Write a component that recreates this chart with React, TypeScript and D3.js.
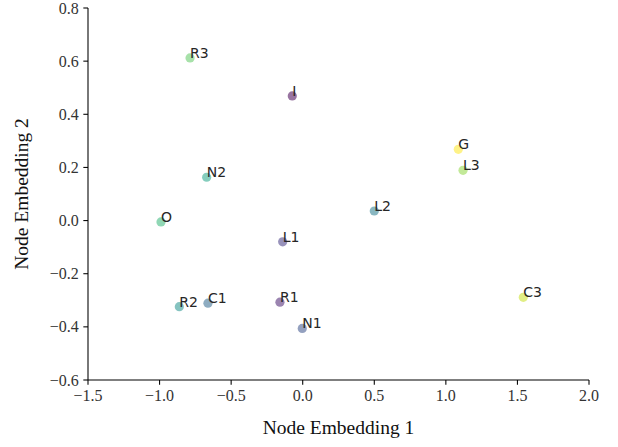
import React from "react";
import * as d3 from "d3";

const nodeNames = ["R3", "I", "N2", "O", "L1", "R2", "C1", "R1", "N1", "G", "L3", "L2", "C3"];
const embX = [-0.787, -0.073, -0.671, -0.99, -0.14, -0.862, -0.662, -0.159, -0.003, 1.087, 1.12, 0.5, 1.541];
const embY = [0.612, 0.469, 0.163, -0.005, -0.08, -0.324, -0.311, -0.307, -0.406, 0.268, 0.189, 0.036, -0.289];
const colorVals = [9, 0, 7, 8, 2, 6, 4, 1, 3, 12, 10, 5, 11];
const xTicks = [-1.5, -1.0, -0.5, 0.0, 0.5, 1.0, 1.5, 2.0];
const yTicks = [-0.6, -0.4, -0.2, 0.0, 0.2, 0.4, 0.6, 0.8];

const W = 618;
const H = 447;
const L = 88, R = 589, T = 8, B = 380;

const fmt = (v: number) => {
  const s = Math.abs(v).toFixed(1);
  return v < -1e-9 ? "\u2212" + s : s;
};

export default function App() {
  const x = d3.scaleLinear().domain([-1.5, 2.0]).range([L, R]);
  const y = d3.scaleLinear().domain([-0.6, 0.8]).range([B, T]);
  const c = d3.scaleSequential(d3.interpolateViridis).domain([0, 12]);
  const tickLen = 4.67;
  const serif = "'Liberation Serif', 'Times New Roman', serif";
  return (
    <svg width={W} height={H} style={{ position: "absolute", left: 0, top: 0, background: "#fff" }}>
      {nodeNames.map((n, i) => (
        <circle key={"p" + n} cx={x(embX[i])} cy={y(embY[i])} r={4.6} fill={c(colorVals[i])} fillOpacity={0.55} />
      ))}
      {nodeNames.map((n, i) => (
        <text key={"t" + n} x={x(embX[i])} y={y(embY[i])} fontFamily="'DejaVu Sans', sans-serif" fontSize={14} fill="#262626">
          {n}
        </text>
      ))}
      <line x1={L} x2={L} y1={T} y2={B} stroke="#000" strokeWidth={1.07} />
      <line x1={L} x2={R} y1={B} y2={B} stroke="#000" strokeWidth={1.07} />
      {xTicks.map((t) => (
        <g key={"xt" + t}>
          <line x1={x(t)} x2={x(t)} y1={B} y2={B + tickLen} stroke="#000" strokeWidth={1.07} />
          <text x={x(t)} y={B + tickLen + 4.67 + 12} textAnchor="middle" fontFamily={serif} fontSize={16} fill="#333">
            {fmt(t)}
          </text>
        </g>
      ))}
      {yTicks.map((t) => (
        <g key={"yt" + t}>
          <line x1={L - tickLen} x2={L} y1={y(t)} y2={y(t)} stroke="#000" strokeWidth={1.07} />
          <text x={L - tickLen - 4.67} y={y(t)} dy="0.35em" textAnchor="end" fontFamily={serif} fontSize={16} fill="#333">
            {fmt(t)}
          </text>
        </g>
      ))}
      <text x={(L + R) / 2} y={434} textAnchor="middle" fontFamily={serif} fontSize={19.5} fill="#111">
        Node Embedding 1
      </text>
      <text transform={`translate(28,${(T + B) / 2}) rotate(-90)`} textAnchor="middle" fontFamily={serif} fontSize={19.5} fill="#111">
        Node Embedding 2
      </text>
    </svg>
  );
}
